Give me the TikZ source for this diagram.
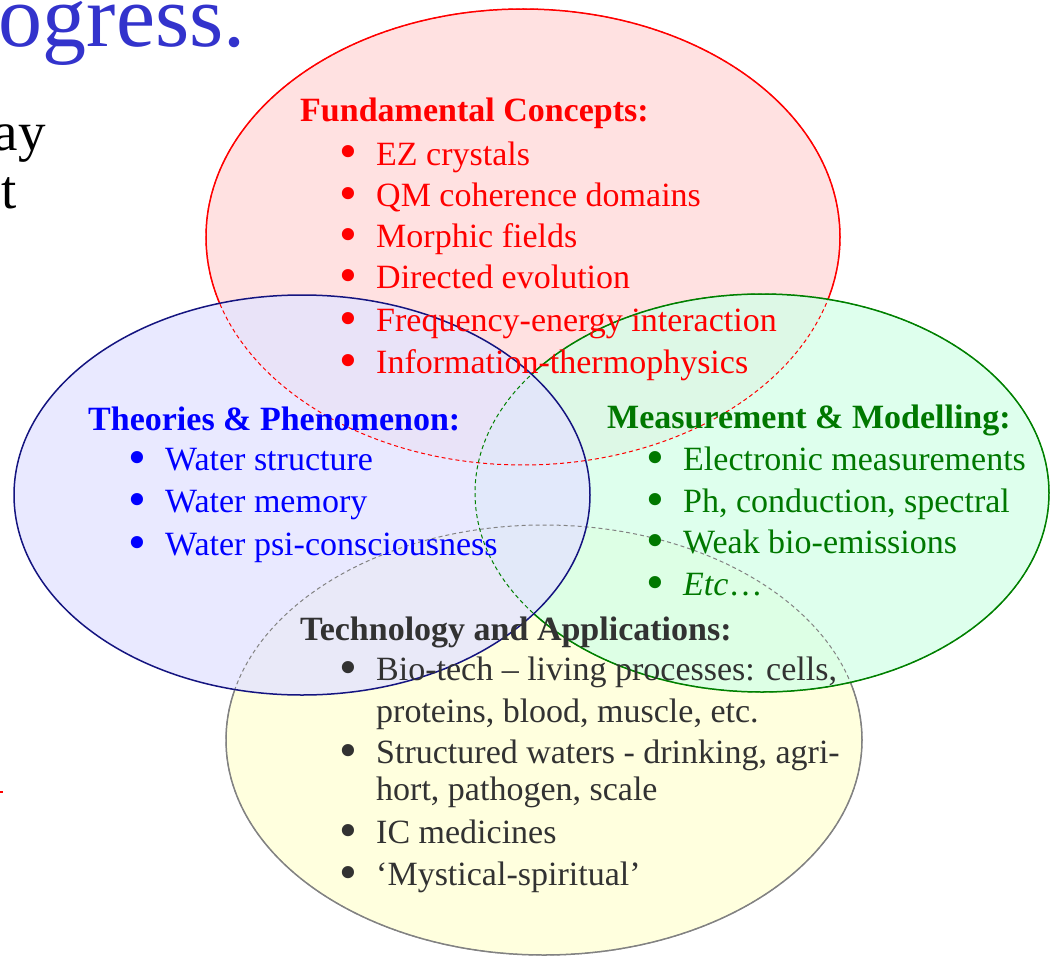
\documentclass[tikz,border=0pt]{standalone}
\usepackage{fontspec}
\setmainfont{Liberation Serif}
\definecolor{redfill}{RGB}{255,217,217}
\definecolor{bluefill}{RGB}{228,228,255}
\definecolor{greenfill}{RGB}{214,255,232}
\definecolor{yellowfill}{RGB}{255,255,214}
\definecolor{redline}{RGB}{255,0,0}
\definecolor{blueline}{RGB}{20,20,128}
\definecolor{greenline}{RGB}{0,128,0}
\definecolor{yellowline}{RGB}{130,130,130}
\definecolor{titleblue}{RGB}{51,51,204}
\definecolor{redtext}{RGB}{255,0,0}
\definecolor{bluetext}{RGB}{0,0,255}
\definecolor{greentext}{RGB}{0,120,0}
\definecolor{techtext}{RGB}{50,50,50}
\newcommand\bul{\makebox[37pt][l]{\smash{\raisebox{-4pt}{\scalebox{1.5}{\textbullet}}}}}
\def\redE{(523,237) ellipse [x radius=317pt, y radius=228pt]}
\def\blueE{(302,495) ellipse [x radius=288pt, y radius=200pt]}
\def\greenE{(762,493) ellipse [x radius=287pt, y radius=199pt]}
\def\yellowE{(544,740) ellipse [x radius=318pt, y radius=215pt]}
\def\bigR{(-20,-20) rectangle (1072,983)}
\begin{document}
\begin{tikzpicture}[x=1pt,y=-1pt,
  txt/.style={anchor=base west, inner sep=0pt, font=\fontsize{34}{40}\selectfont},
  hd/.style={anchor=base west, inner sep=0pt, font=\fontsize{34}{40}\selectfont\bfseries},
  outl/.style={line width=1.5pt},
  hid/.style={line width=1pt, dash pattern=on 4pt off 3pt}]
\useasboundingbox (0,0) rectangle (1052,963);
% fills
\fill[redfill, fill opacity=0.8] \redE;
\fill[yellowfill, fill opacity=0.8] \yellowE;
\fill[greenfill, fill opacity=0.8] \greenE;
\fill[bluefill, fill opacity=0.8] \blueE;
% red outline
\draw[redline, hid] \redE;
\begin{scope}[even odd rule]
  \clip \bigR \blueE;
  \begin{scope}[even odd rule]
    \clip \bigR \greenE;
    \draw[redline, outl] \redE;
  \end{scope}
\end{scope}
% yellow outline
\draw[yellowline, hid] \yellowE;
\begin{scope}[even odd rule]
  \clip \bigR \blueE;
  \begin{scope}[even odd rule]
    \clip \bigR \greenE;
    \draw[yellowline, outl] \yellowE;
  \end{scope}
\end{scope}
% green outline
\draw[greenline, hid] \greenE;
\begin{scope}[even odd rule]
  \clip \bigR \blueE;
  \draw[greenline, outl] \greenE;
\end{scope}
% blue outline
\draw[blueline, outl] \blueE;
% left-side fragments
\node[anchor=base east, inner sep=0pt, text=titleblue, font=\fontsize{88}{90}\selectfont] (title) at (246,47) {ogress.};
\node[anchor=base east, inner sep=0pt, font=\fontsize{55}{60}\selectfont] (l1) at (46,150) {ay};
\node[anchor=base east, inner sep=0pt, font=\fontsize{55}{60}\selectfont] (l2) at (17,208) {t};
\draw[redline, line width=1.5pt] (0,792) -- (3,792);
% Fundamental concepts
\node[hd, text=redtext] (f0) at (300,122) {Fundamental Concepts:};
\node[txt, text=redtext] (f1) at (339,165) {\bul EZ crystals};
\node[txt, text=redtext] (f2) at (339,206) {\bul QM coherence domains};
\node[txt, text=redtext] (f3) at (339,247) {\bul Morphic fields};
\node[txt, text=redtext] (f4) at (339,288) {\bul Directed evolution};
\node[txt, text=redtext] (f5) at (339,331) {\bul Frequency-energy interaction};
\node[txt, text=redtext] (f6) at (339,373) {\bul Information-thermophysics};
% Theories
\node[hd, text=bluetext] (t0) at (88,430) {Theories \& Phenomenon:};
\node[txt, text=bluetext] (t1) at (128,470) {\bul Water structure};
\node[txt, text=bluetext] (t2) at (128,512) {\bul Water memory};
\node[txt, text=bluetext] (t3) at (128,555) {\bul Water psi-consciousness};
% Measurement
\node[hd, text=greentext] (m0) at (607,428) {Measurement \& Modelling:};
\node[txt, text=greentext] (m1) at (646,470) {\bul Electronic measurements};
\node[txt, text=greentext] (m2) at (646,512) {\bul Ph, conduction, spectral};
\node[txt, text=greentext] (m3) at (646,553) {\bul Weak bio-emissions};
\node[txt, text=greentext] (m4) at (646,595) {\bul \textit{Etc}…};
% Technology
\node[hd, text=techtext] (a0) at (300,640) {Technology and Applications:};
\node[txt, text=techtext] (a1) at (339,680) {\bul Bio-tech – living processes: cells,};
\node[txt, text=techtext] (a2) at (376,722) {proteins, blood, muscle, etc.};
\node[txt, text=techtext] (a3) at (339,763) {\bul Structured waters - drinking, agri-};
\node[txt, text=techtext] (a4) at (376,800) {hort, pathogen, scale};
\node[txt, text=techtext] (a5) at (339,843) {\bul IC medicines};
\node[txt, text=techtext] (a6) at (339,885) {\bul ‘Mystical-spiritual’};
\end{tikzpicture}
\end{document}
